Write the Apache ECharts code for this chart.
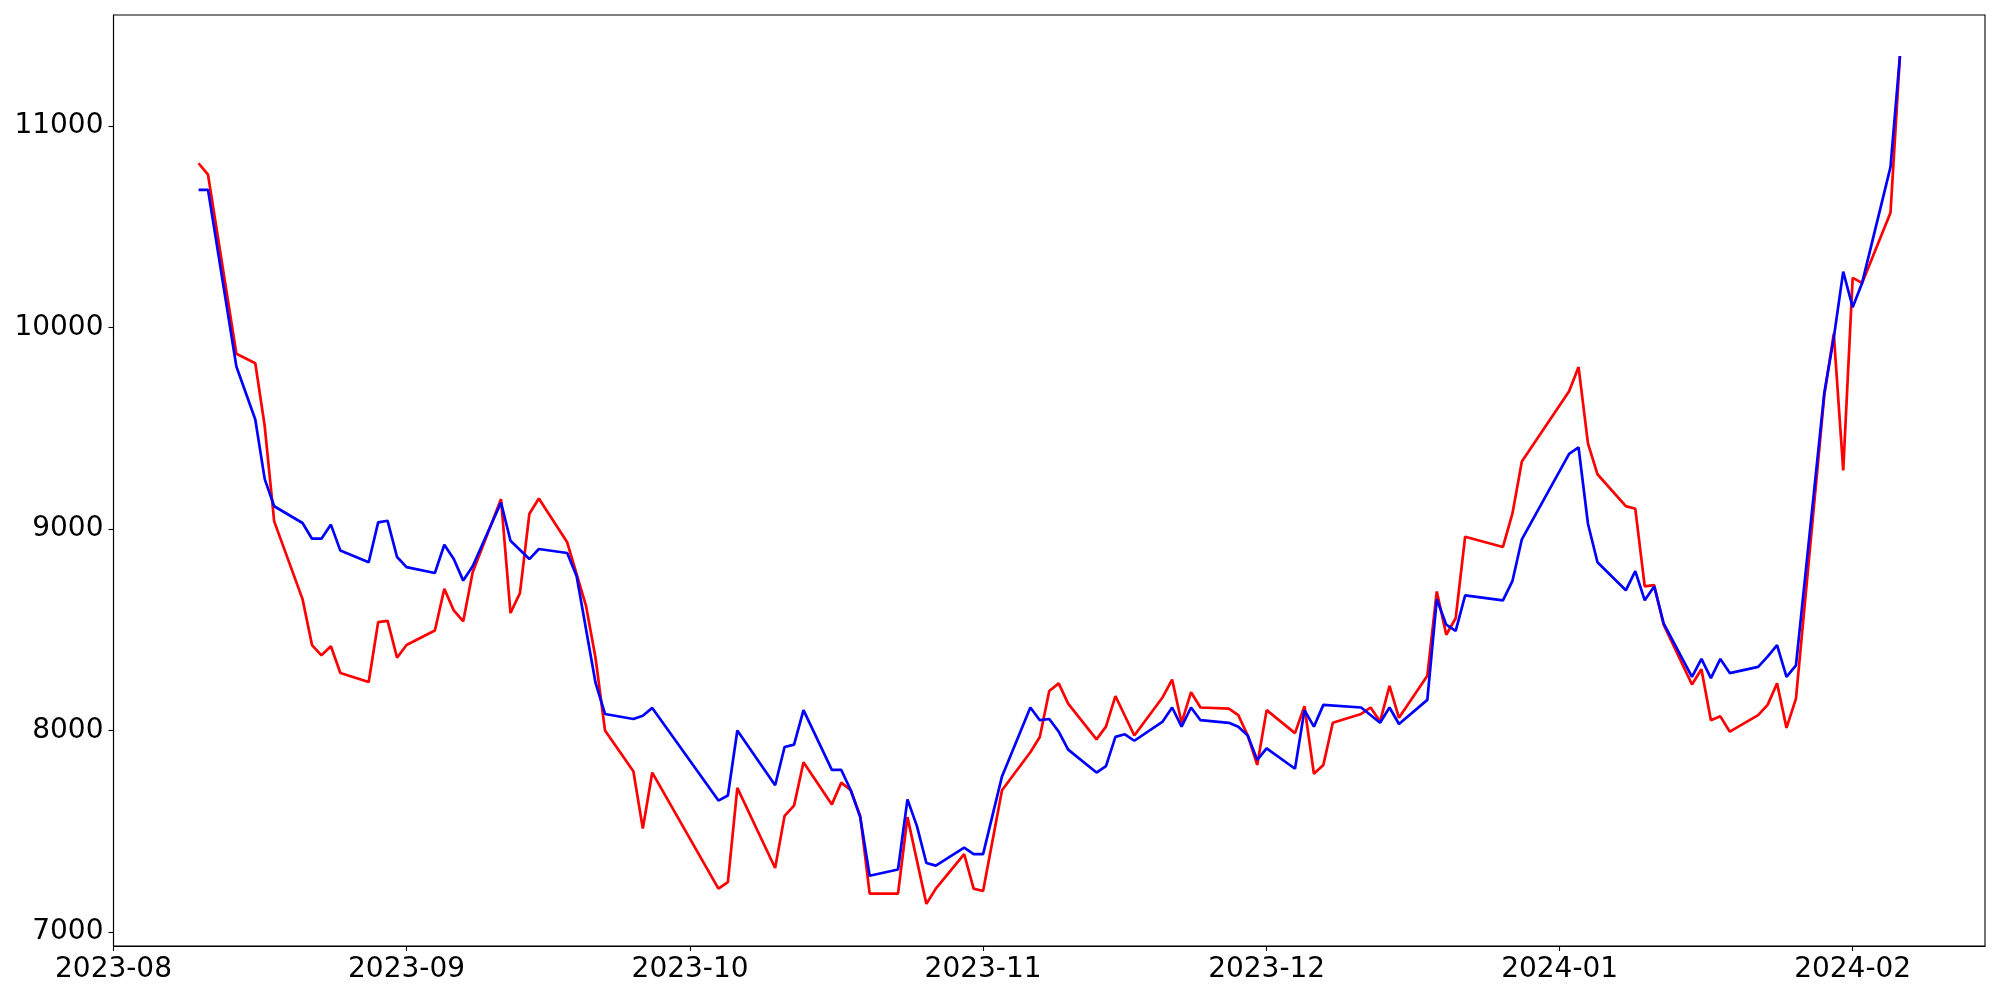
<!DOCTYPE html>
<html>
<head>
<meta charset="utf-8">
<script src="https://cdn.jsdelivr.net/npm/echarts@6/dist/echarts.min.js"></script>
<style>
html,body{margin:0;padding:0;background:#fff;}
#chart{width:2000px;height:1000px;}
</style>
</head>
<body>
<div id="chart"></div>
<script>
const dates = [
 '2023-08-10','2023-08-11','2023-08-14','2023-08-16','2023-08-17','2023-08-18',
 '2023-08-21','2023-08-22','2023-08-23','2023-08-24','2023-08-25',
 '2023-08-28','2023-08-29','2023-08-30','2023-08-31','2023-09-01',
 '2023-09-04','2023-09-05','2023-09-06','2023-09-07','2023-09-08',
 '2023-09-11','2023-09-12','2023-09-13','2023-09-14','2023-09-15',
 '2023-09-18','2023-09-19','2023-09-20','2023-09-21','2023-09-22',
 '2023-09-25','2023-09-26','2023-09-27',
 '2023-10-04','2023-10-05','2023-10-06',
 '2023-10-10','2023-10-11','2023-10-12','2023-10-13',
 '2023-10-16','2023-10-17','2023-10-18','2023-10-19','2023-10-20',
 '2023-10-23','2023-10-24','2023-10-25','2023-10-26','2023-10-27',
 '2023-10-30','2023-10-31','2023-11-01','2023-11-03',
 '2023-11-06','2023-11-07','2023-11-08','2023-11-09','2023-11-10',
 '2023-11-13','2023-11-14','2023-11-15','2023-11-16','2023-11-17',
 '2023-11-20','2023-11-21','2023-11-22','2023-11-23','2023-11-24',
 '2023-11-27','2023-11-28','2023-11-29','2023-11-30','2023-12-01',
 '2023-12-04','2023-12-05','2023-12-06','2023-12-07','2023-12-08',
 '2023-12-11','2023-12-12','2023-12-13','2023-12-14','2023-12-15',
 '2023-12-18','2023-12-19','2023-12-20','2023-12-21','2023-12-22',
 '2023-12-26','2023-12-27','2023-12-28',
 '2024-01-02','2024-01-03','2024-01-04','2024-01-05',
 '2024-01-08','2024-01-09','2024-01-10','2024-01-11','2024-01-12',
 '2024-01-15','2024-01-16','2024-01-17','2024-01-18','2024-01-19',
 '2024-01-22','2024-01-23','2024-01-24','2024-01-25','2024-01-26',
 '2024-01-29','2024-01-30','2024-01-31','2024-02-01','2024-02-02',
 '2024-02-05','2024-02-06'
];

const redValues = [
 10816,10759,9870,9823,9510,9038,
 8652,8424,8373,8418,8285,
 8241,8538,8544,8361,8424,
 8496,8703,8596,8542,8785,
 9149,8583,8682,9076,9152,
 8934,null,8617,8360,8000,
 7798,7513,7791,
 7215,7247,7715,
 7317,7576,7627,7842,
 7633,7741,7703,7576,7190,
 7190,7570,7354,7139,7215,
 7386,7215,7203,7703,
 7892,7968,8196,8234,8133,
 7956,8019,8171,null,7975,
 8165,8253,8038,8190,8114,
 8108,8076,7975,7829,8101,
 7987,8120,7785,7829,8038,
 8082,8114,8044,8221,8063,
 8272,8690,8475,8557,8962,
 8911,9076,9335,
 9684,9804,9424,9272,
 9114,9101,8715,8722,8525,
 8228,8304,8051,8070,7994,
 8076,8127,8234,8013,8158,
 9665,9970,9291,10247,10222,
 10570,11348
];

const blueValues = [
 10684,10684,9807,9544,9248,9113,
 9030,8952,8952,9022,8893,
 8835,9033,9041,8861,8811,
 8782,8922,8851,8744,8815,
 9132,8942,null,8851,8901,
 8881,8766,null,8236,8082,
 8057,8073,8112,
 7652,7677,8000,
 7728,7918,7930,8101,
 7804,7804,7703,7570,7279,
 7310,7658,7525,7342,7329,
 7418,7386,7386,7772,
 8114,8051,8057,7994,7905,
 7791,7823,7968,7981,7949,
 8044,8114,8019,8114,8051,
 8038,8019,7975,7854,7911,
 7810,8101,8019,8127,null,
 8114,null,8038,8114,8032,
 8152,8652,8525,8494,8671,
 8646,8741,8949,
 9373,9405,9025,8835,
 8696,8791,8646,8715,8532,
 8266,8355,8260,8355,8285,
 8316,8367,8424,8266,8323,
 9677,9949,10278,10101,10222,
 10797,11348
];

const xTickLabels = ['2023-08','2023-09','2023-10','2023-11','2023-12','2024-01','2024-02'];
const yTickValues = [7000, 8000, 9000, 10000, 11000];

function utc(s) {
  const p = s.split('-').map(Number);
  return Date.UTC(p[0], p[1] - 1, p[2] || 1);
}
const xTickValues = xTickLabels.map(utc);

const redData = dates.map((d, i) => [utc(d), redValues[i]]);
const blueData = dates.map((d, i) => [utc(d), blueValues[i]]);

const fontFamily = 'DejaVu Sans';
const chart = echarts.init(document.getElementById('chart'));
chart.setOption({
  animation: false,
  backgroundColor: '#ffffff',
  grid: {
    left: 113.5, right: 15, top: 15, bottom: 54,
    show: true, borderColor: '#000', borderWidth: 1.1, backgroundColor: 'transparent'
  },
  xAxis: {
    type: 'value',
    min: utc('2023-08-01'),
    max: utc('2024-02-15'),
    scale: true,
    splitLine: { show: false },
    axisLine: { show: true, onZero: false, lineStyle: { color: '#000', width: 1.1 } },
    axisTick: { show: true, length: 5, lineStyle: { color: '#000', width: 1.1 }, customValues: xTickValues },
    axisLabel: {
      customValues: xTickValues,
      color: '#000', fontSize: 28, fontFamily: fontFamily, margin: 10,
      formatter: function (v) {
        const d = new Date(v);
        const m = d.getUTCMonth() + 1;
        return d.getUTCFullYear() + '-' + (m < 10 ? '0' + m : m);
      }
    }
  },
  yAxis: {
    type: 'value',
    min: 6930,
    max: 11552,
    scale: true,
    splitLine: { show: false },
    axisLine: { show: true, onZero: false, lineStyle: { color: '#000', width: 1.1 } },
    axisTick: { show: true, length: 5, lineStyle: { color: '#000', width: 1.1 }, customValues: yTickValues },
    axisLabel: {
      customValues: yTickValues,
      color: '#000', fontSize: 28, fontFamily: fontFamily, margin: 10,
      formatter: function (v) { return String(Math.round(v)); }
    }
  },
  series: [
    {
      type: 'line', data: redData, connectNulls: true, showSymbol: false, symbol: 'none',
      lineStyle: { color: '#ff0000', width: 2.7 }, itemStyle: { color: '#ff0000' }
    },
    {
      type: 'line', data: blueData, connectNulls: true, showSymbol: false, symbol: 'none',
      lineStyle: { color: '#0000ff', width: 2.7 }, itemStyle: { color: '#0000ff' }
    }
  ]
});
</script>
</body>
</html>
